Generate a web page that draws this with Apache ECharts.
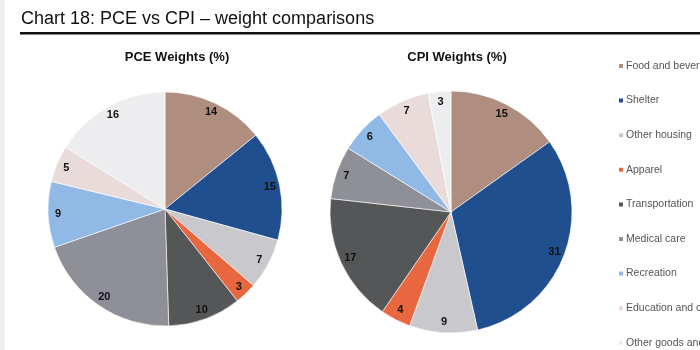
<!DOCTYPE html>
<html>
<head>
<meta charset="utf-8">
<script src="https://cdn.jsdelivr.net/npm/echarts@6/dist/echarts.min.js"></script>
<style>
  html, body { margin: 0; padding: 0; background: #fff; }
  .main { width: 700px; height: 350px; }
</style>
</head>
<body>
<div class="main"></div>
<script>
var categories = ['Food and beverages', 'Shelter', 'Other housing', 'Apparel', 'Transportation',
    'Medical care', 'Recreation', 'Education and communication', 'Other goods and services'];
var pceWeights = [14, 15, 7, 3, 10, 20, 9, 5, 16];
var cpiWeights = [15, 31, 9, 4, 17, 7, 6, 7, 3];
var colors = ['#b08e7f', '#1f4f8e', '#c9c9cd', '#e9673f', '#555657',
    '#8e8f97', '#91b9e6', '#e9dbda', '#ededef'];

var myChart = echarts.init(document.querySelector('.main'))

function toData(values) {
    return categories.map(function (name, i) {
        return {name: name, value: values[i]};
    });
}

// filled pie, no labels
function piePart(name, values, center, radius) {
    return {
        name: name,
        type: 'pie',
        center: center,
        radius: [0, radius],
        startAngle: 90,
        clockwise: true,
        label: {show: false},
        labelLine: {show: false},
        itemStyle: {borderColor: '#fff', borderWidth: 0.6},
        emphasis: {scale: false},
        data: toData(values)
    };
}

// transparent outer ring only to put the numbers near the rim
function labelRing(name, values, center, radius) {
    return {
        name: name + ' labels',
        type: 'pie',
        center: center,
        radius: [radius * 0.78, radius],
        startAngle: 90,
        silent: true,
        itemStyle: {color: 'rgba(0,0,0,0)', borderWidth: 0},
        label: {
            show: true,
            position: 'inside',
            formatter: '{c}',
            color: '#111',
            fontWeight: 'bold',
            fontSize: 11,
            fontFamily: 'Liberation Sans, Arial, sans-serif'
        },
        labelLine: {show: false},
        emphasis: {disabled: true},
        data: toData(values)
    };
}

option = {
    color: colors,
    animation: false,
    title: [{
        text: 'Chart 18: PCE vs CPI – weight comparisons',
        left: 16,
        top: 5,
        textStyle: {
            fontFamily: 'Liberation Sans, Arial, sans-serif',
            fontSize: 18,
            fontWeight: 'normal',
            color: '#111'
        }
    }, {
        text: 'PCE Weights (%)',
        left: 172,
        top: 46,
        textAlign: 'center',
        textStyle: {fontFamily: 'Liberation Sans, Arial, sans-serif', fontSize: 13, fontWeight: 'bold', color: '#111'}
    }, {
        text: 'CPI Weights (%)',
        left: 452,
        top: 46,
        textAlign: 'center',
        textStyle: {fontFamily: 'Liberation Sans, Arial, sans-serif', fontSize: 13, fontWeight: 'bold', color: '#111'}
    }],
    graphic: [
        {type: 'rect', shape: {x: 0, y: 0, width: 5, height: 350}, style: {fill: '#eeeeee'}},
        {type: 'rect', shape: {x: 20, y: 32, width: 680, height: 2.5}, style: {fill: '#111'}}
    ],
    legend: {
        orient: 'vertical',
        left: 617,
        top: 60,
        padding: 0,
        icon: 'rect',
        itemWidth: 6,
        itemHeight: 6,
        itemGap: 22.6,
        selectedMode: false,
        data: categories,
        textStyle: {
            fontFamily: 'Liberation Sans, Arial, sans-serif',
            fontSize: 10.5,
            color: '#555',
            padding: [0, 0, 0, -3],
            lineHeight: 12
        }
    },
    series: [
        piePart('PCE', pceWeights, [165, 209], 117),
        piePart('CPI', cpiWeights, [451, 212], 121),
        labelRing('PCE', pceWeights, [165, 209], 117),
        labelRing('CPI', cpiWeights, [451, 212], 121)
    ]
};

myChart.setOption(option);
</script>
</body>
</html>
